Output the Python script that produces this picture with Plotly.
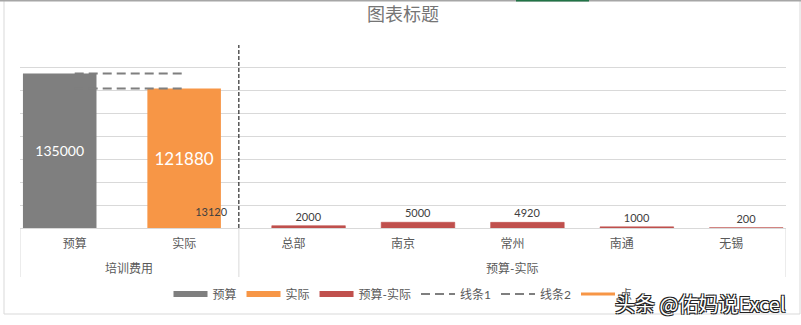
import plotly.graph_objects as go

# ---------------- data ----------------
groups = ["培训费用", "培训费用", "预算-实际", "预算-实际", "预算-实际", "预算-实际", "预算-实际"]
cats = ["预算", "实际", "总部", "南京", "常州", "南通", "无锡"]

budget_cat, budget_val = ["预算"], [135000]
actual_cat, actual_val = ["实际"], [121880]
diff_cats = ["总部", "南京", "常州", "南通", "无锡"]
diff_vals = [2000, 5000, 4920, 1000, 200]

line_cats = ["预算", "实际"]
line1_vals = [135000, 135000]
line2_vals = [121880, 121880]

point_cat, point_val = ["实际"], [13120]

# ---------------- styles ----------------
GRAY = "#7f7f7f"
ORANGE = "#f79646"
RED = "#c0504d"
TXT = "#595959"
GRID = "#d9d9d9"
FONT = "Lato, Noto Sans CJK SC, sans-serif"

BW = 0.672
fig = go.Figure()

fig.add_trace(go.Bar(
    x=budget_cat, y=budget_val, name="预算",
    marker=dict(color=GRAY, line=dict(width=0)), width=BW, offset=-0.137 - BW / 2,
    text=[str(v) for v in budget_val], textposition="inside", insidetextanchor="middle",
    textfont=dict(color="white", size=14, family=FONT), showlegend=False,
))
fig.add_trace(go.Bar(
    x=actual_cat, y=actual_val, name="实际",
    marker=dict(color=ORANGE, line=dict(width=0)), width=BW, offset=-BW / 2,
    text=[str(v) for v in actual_val], textposition="inside", insidetextanchor="middle",
    textfont=dict(color="white", size=17, family=FONT), showlegend=False,
))
fig.add_trace(go.Bar(
    x=diff_cats, y=diff_vals, name="预算-实际",
    marker=dict(color=RED, line=dict(width=0.6, color=RED)), width=BW, offset=0.137 - BW / 2,
    text=[str(v) for v in diff_vals], textposition="outside",
    textfont=dict(color="#404040", size=11, family=FONT), showlegend=False,
    cliponaxis=False,
))

fig.add_trace(go.Scatter(
    x=line_cats, y=line1_vals, name="线条1", mode="lines",
    line=dict(color=GRAY, width=2, dash="9px,5px"), legendrank=4,
))
fig.add_trace(go.Scatter(
    x=line_cats, y=line2_vals, name="线条2", mode="lines",
    line=dict(color=GRAY, width=2, dash="9px,5px"), legendrank=5,
))
fig.add_trace(go.Scatter(
    x=point_cat, y=point_val, name="点", mode="lines+markers+text",
    line=dict(color=ORANGE, width=3),
    marker=dict(size=16, color="rgba(0,0,0,0)", line=dict(width=0)),
    text=[str(v) for v in point_val],
    textposition="middle right", textfont=dict(color="#404040", size=11, family=FONT),
    legendrank=6, cliponaxis=False,
))

# legend swatches for the bar series
for nm, col, rk in [("预算", GRAY, 1), ("实际", ORANGE, 2), ("预算-实际", RED, 3)]:
    fig.add_trace(go.Scatter(
        x=[cats[0]], y=[None], name=nm, mode="lines",
        line=dict(color=col, width=6), legendrank=rk,
    ))

PLOT_W, PLOT_H, BASE = 766, 183, 228

fig.update_layout(
    width=801, height=325,
    margin=dict(l=20, r=15, t=45, b=97),
    paper_bgcolor="white", plot_bgcolor="white",
    font=dict(family=FONT, color=TXT, size=12),
    barmode="overlay",
    title=dict(text="图表标题", x=0.5, xref="paper", xanchor="center",
               y=1 - 15 / 325, yanchor="middle",
               font=dict(size=18, color="#757575", family=FONT)),
    xaxis=dict(
        type="category", categoryorder="array", categoryarray=cats,
        range=[-0.5, len(cats) - 0.5],
        showline=True, linecolor=GRID, linewidth=1,
        ticks="outside", ticklen=5, tickcolor="rgba(0,0,0,0)", showgrid=False,
        tickfont=dict(size=12, color=TXT, family=FONT),
    ),
    yaxis=dict(
        range=[0, 160000], dtick=20000, showticklabels=False,
        showgrid=True, gridcolor=GRID, gridwidth=1, zeroline=False,
        showline=False, ticks="",
    ),
    legend=dict(
        orientation="h", x=0.5, xanchor="center", y=(BASE - 294) / PLOT_H, yanchor="middle",
        font=dict(size=12, color=TXT, family=FONT),
        bgcolor="rgba(0,0,0,0)", itemwidth=34,
    ),
    showlegend=True,
)

# group labels and dividers (second category level)
uniq = []
for g in groups:
    if g not in uniq:
        uniq.append(g)
bounds = [-0.5]
for g in uniq:
    idx = [i for i, gg in enumerate(groups) if gg == g]
    fig.add_annotation(text=g, x=(idx[0] + idx[-1]) / 2, y=(BASE - 268) / PLOT_H,
                       xref="x", yref="paper", showarrow=False, yanchor="middle",
                       font=dict(size=12, color=TXT, family=FONT))
    bounds.append(idx[-1] + 0.5)
for b in bounds:
    fig.add_shape(type="line", xref="x", yref="paper", x0=b, x1=b,
                  y0=0, y1=(BASE - 277) / PLOT_H, line=dict(color=GRID, width=1))

# dashed separator between the two groups
fig.add_shape(type="line", xref="x", yref="y domain",
              x0=bounds[1], x1=bounds[1], y0=0, y1=1,
              line=dict(color="black", width=1, dash="4px,2px"))

# chart border
fig.add_shape(type="rect", xref="paper", yref="paper",
              x0=(4 - 20) / PLOT_W, x1=(800 - 20) / PLOT_W,
              y0=(BASE - 314) / PLOT_H, y1=(BASE - 0.5) / PLOT_H,
              line=dict(color=GRID, width=1), layer="below")
fig.add_shape(type="line", xref="paper", yref="paper",
              x0=(0 - 20) / PLOT_W, x1=(801 - 20) / PLOT_W,
              y0=(BASE - 0.5) / PLOT_H, y1=(BASE - 0.5) / PLOT_H,
              line=dict(color="#a6a6a6", width=2))
fig.add_shape(type="line", xref="paper", yref="paper",
              x0=(516 - 20) / PLOT_W, x1=(589 - 20) / PLOT_W,
              y0=(BASE - 0.5) / PLOT_H, y1=(BASE - 0.5) / PLOT_H,
              line=dict(color="#217346", width=2))

# watermark
fig.add_annotation(
    text="头条 @佑妈说Excel", xref="paper", yref="paper",
    x=(700 - 20) / PLOT_W, y=(BASE - 303) / PLOT_H, xanchor="center", yanchor="middle",
    showarrow=False,
    font=dict(size=20, color="white", family="Noto Sans CJK SC",
              shadow="-1px -1px 0 #222, 1px -1px 0 #222, -1px 1px 0 #222, 1px 1px 0 #222"),
)

fig.write_html("out.html")
